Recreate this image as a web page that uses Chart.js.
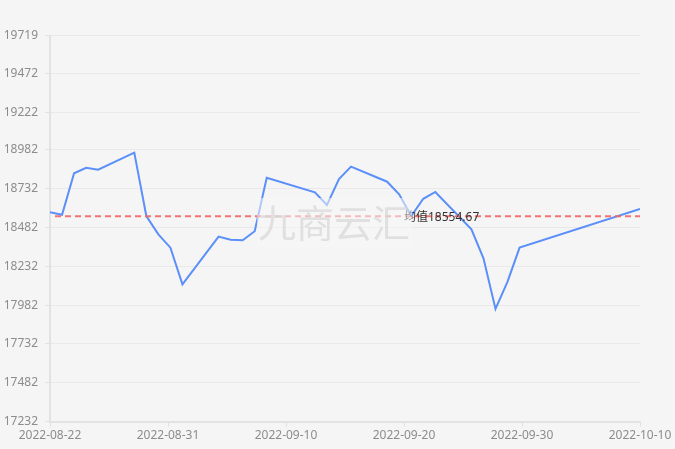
<!DOCTYPE html>
<html><head><meta charset="utf-8">
<script src="https://cdn.jsdelivr.net/npm/chart.js@4/dist/chart.umd.min.js"></script>
<style>html,body{margin:0;padding:0;background:#f5f5f5;}#wrap{width:675px;height:449px;position:relative;}</style>
</head><body><div id="wrap"><canvas id="c" width="675" height="449"></canvas></div>
<script>
const dates = ['2022-08-22','2022-08-23','2022-08-24','2022-08-25','2022-08-26','2022-08-29','2022-08-30','2022-08-31','2022-09-01','2022-09-02',
  '2022-09-05','2022-09-06','2022-09-07','2022-09-08','2022-09-09','2022-09-13','2022-09-14','2022-09-15','2022-09-16','2022-09-19',
  '2022-09-20','2022-09-21','2022-09-22','2022-09-23','2022-09-26','2022-09-27','2022-09-28','2022-09-29','2022-09-30','2022-10-10'];
const values = [18580,18564,18831,18867,18854,18964,18556,18438,18352,18116,
  18423,18403,18400,18458,18803,18709,18627,18794,18874,18777,
  18696,18556,18667,18711,18470,18283,17957,18133,18352,18602];
const meanValue = 18554.67;
const meanLabel = '均值18554.67';
const yTickLabels = ['17232','17482','17732','17982','18232','18482','18732','18982','19222','19472','19719'];
const xTickLabels = ['2022-08-22','2022-08-31','2022-09-10','2022-09-20','2022-09-30','2022-10-10'];
const watermark = '九商云汇';

const DAY = 86400000;
const t0 = Date.parse(xTickLabels[0]);
const dayOf = d => (Date.parse(d) - t0) / DAY;
const points = dates.map((d, i) => ({x: dayOf(d), y: values[i]}));
const xMax = dayOf(xTickLabels[xTickLabels.length - 1]);
const yVals = yTickLabels.map(Number);

const FONT = '"Noto Sans", "Noto Sans CJK SC", sans-serif';

const meanPlugin = {
  id: 'meanLine',
  afterDatasetsDraw(chart) {
    const {ctx, chartArea, scales} = chart;
    const y = scales.y.getPixelForValue(meanValue);
    ctx.save();
    ctx.strokeStyle = 'rgba(245,100,100,0.9)';
    ctx.lineWidth = 2;
    ctx.setLineDash([6, 4]);
    ctx.beginPath();
    ctx.moveTo(chartArea.left + 5, y);
    ctx.lineTo(chartArea.right, y);
    ctx.stroke();
    ctx.setLineDash([]);
    ctx.fillStyle = '#333';
    ctx.font = '12px ' + FONT;
    ctx.textAlign = 'left';
    ctx.textBaseline = 'middle';
    ctx.fillText(meanLabel, chartArea.left + chartArea.width * 0.6, y + 1);
    ctx.restore();
  }
};

const watermarkPlugin = {
  id: 'watermark',
  afterDraw(chart) {
    const {ctx} = chart;
    ctx.save();
    ctx.fillStyle = 'rgba(245,245,245,0.55)';
    ctx.fillRect(257, 198, 155, 49);
    ctx.fillStyle = 'rgba(215,215,215,0.7)';
    ctx.font = '38px "Noto Sans CJK SC", sans-serif';
    ctx.textAlign = 'center';
    ctx.textBaseline = 'middle';
    ctx.fillText(watermark, 334, 223);
    ctx.restore();
  }
};

new Chart(document.getElementById('c'), {
  type: 'line',
  data: {
    datasets: [{
      data: points,
      borderColor: '#5b8ff9',
      borderWidth: 2,
      pointRadius: 0,
      tension: 0,
      fill: false
    }]
  },
  options: {
    responsive: false,
    animation: false,
    devicePixelRatio: 1,
    layout: {padding: {top: 35.5, right: 35, left: 0, bottom: 0}},
    plugins: {legend: {display: false}, tooltip: {enabled: false}},
    scales: {
      x: {
        type: 'linear',
        min: 0,
        max: xMax,
        afterBuildTicks(scale) {
          const n = xTickLabels.length - 1;
          scale.ticks = xTickLabels.map((l, i) => ({value: xMax * i / n, label: l}));
        },
        afterFit(scale) { scale.height = 27.5; },
        grid: {drawOnChartArea: false, drawTicks: true, tickLength: 5, tickColor: '#e0e0e0', lineWidth: 1},
        border: {color: '#e2e2e2', width: 2},
        ticks: {
          color: '#8c8c8c', font: {size: 12, family: FONT}, padding: 2, maxRotation: 0, autoSkip: false,
          callback(v, i) { return xTickLabels[i]; }
        }
      },
      y: {
        min: yVals[0],
        max: yVals[yVals.length - 1],
        afterBuildTicks(scale) {
          scale.ticks = yVals.map(v => ({value: v}));
        },
        afterFit(scale) { scale.width = 50; },
        grid: {color: '#e9e9e9', lineWidth: 1, drawTicks: true, tickLength: 5, tickColor: '#e2e2e2'},
        border: {color: '#e2e2e2', width: 2},
        ticks: {
          color: '#8c8c8c', font: {size: 12, family: FONT}, padding: 7, autoSkip: false,
          callback(v, i) { return yTickLabels[i]; }
        }
      }
    }
  },
  plugins: [meanPlugin, watermarkPlugin]
});
</script></body></html>
